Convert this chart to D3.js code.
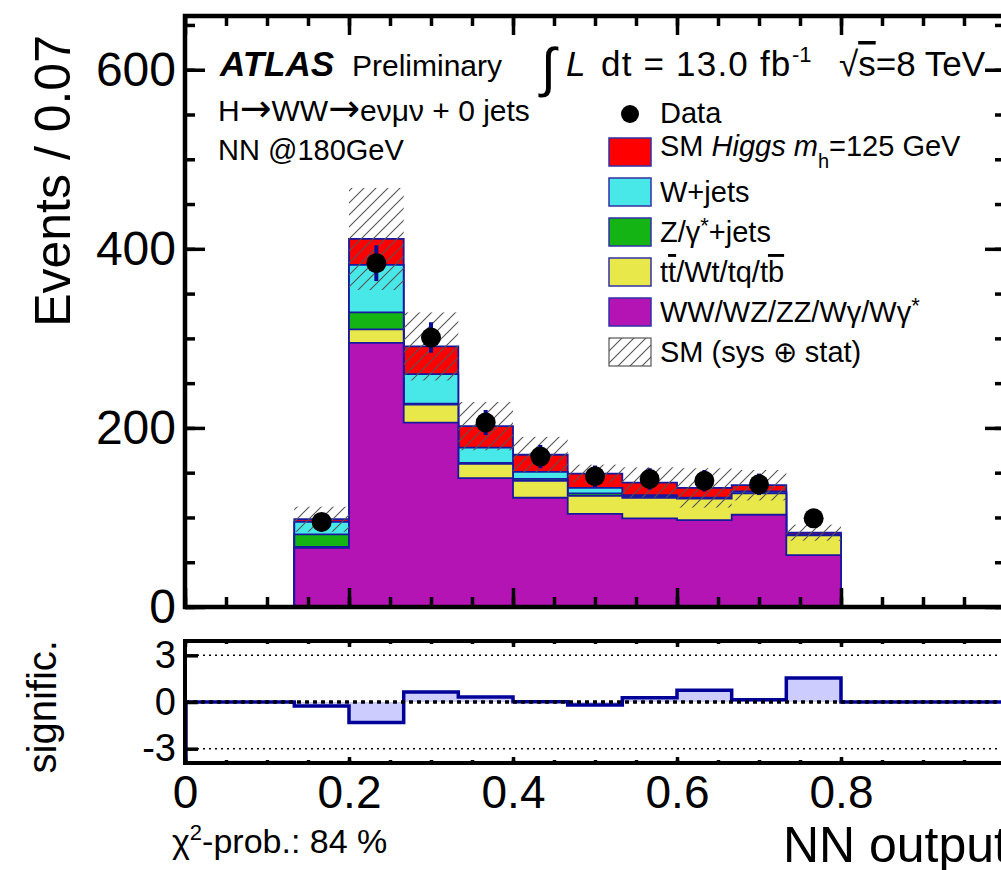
<html>
<head>
<script src="https://d3js.org/d3.v7.min.js" charset="utf-8"></script>
<style>
body { margin: 0; background: #fff; }
svg text { font-family: "Liberation Sans", Arial, Helvetica, sans-serif; }
</style>
</head>
<body>
<div id="canvas"></div>
<script>
// bin edges of the NN output histogram (15 bins)
var binEdges = [0, 0.0667, 0.1333, 0.2, 0.2667, 0.3333, 0.4, 0.4667, 0.5333, 0.6, 0.6667, 0.7333, 0.8, 0.8667, 0.9333, 1.0];

// background / signal contributions per bin (events)
var wwVals    = [0, 0, 66, 295, 206, 144, 122, 104, 99, 97, 103, 58, 0, 0, 0];
var topVals   = [0, 0, 1, 15, 20, 16, 19, 20, 23, 24, 24, 22, 0, 0, 0];
var zVals     = [0, 0, 14, 19, 1, 1, 2, 3, 1, 0, 0, 0, 0, 0, 0];
var wjetsVals = [0, 0, 14, 53, 33, 17, 8, 6, 2, 1, 2, 1, 0, 0, 0];
var higgsVals = [0, 0, 3, 29, 31, 24, 19, 16, 14, 11, 7, 2, 0, 0, 0];
var sysUnc    = [0, 0, 14, 57, 38, 27, 20, 10, 17, 22, 17, 9, 0, 0, 0];

// data
var dataVals  = [0, 0, 95, 384, 301, 206, 168, 146, 143, 141, 137, 99, 0, 0, 0];
var dataErr   = [0, 0, 10, 20, 17, 14, 13, 12, 12, 12, 12, 10, 0, 0, 0];

// significance in the ratio pad
var signif    = [0, 0, -0.25, -1.32, 0.64, 0.32, 0.02, -0.2, 0.28, 0.75, 0.15, 1.54, 0, 0, 0];

var xMajorTicks = [0, 0.2, 0.4, 0.6, 0.8, 1.0];
var yMajorTicks = [0, 200, 400, 600];
var sigTicks = [-3, 0, 3];

var legendItems = [
	{label: "higgs", color: "#ff0000"},
	{label: "W+jets", color: "#48e8e8"},
	{label: "Z/γ*+jets", color: "#14b414"},
	{label: "top", color: "#e8e84a"},
	{label: "WW/WZ/ZZ/Wγ/Wγ*", color: "#b414b4"}
];

var blue = "#1818a0";
var W = 1001, H = 870;
var svg = d3.select("#canvas").append("svg").attr("width", W).attr("height", H);

var x = d3.scaleLinear().domain([0, 1]).range([185, 1005]);
var y = d3.scaleLinear().domain([0, 660]).range([607, 16]);
var ys = d3.scaleLinear().domain([-3.92, 3.92]).range([763, 641]);

// hatch pattern for the uncertainty band
var defs = svg.append("defs");
var pat = defs.append("pattern").attr("id", "hatch").attr("patternUnits", "userSpaceOnUse")
	.attr("width", 12).attr("height", 12);
pat.append("path").attr("d", "M-1,1 l2,-2 M0,12 l12,-12 M11,13 l2,-2")
	.attr("stroke", "#555").attr("stroke-width", 1.1);

// cumulative stack
function cum(arrs) {
	return binEdges.slice(0, -1).map(function(e, i) {
		var s = 0;
		arrs.forEach(function(a) { s += a[i]; });
		return s;
	});
}
function stepPts(vals) {
	var pts = vals.map(function(v, i) { return {x: binEdges[i], v: v}; });
	pts.push({x: binEdges[binEdges.length - 1], v: vals[vals.length - 1]});
	return pts;
}
var area = d3.area().curve(d3.curveStepAfter)
	.x(function(d) { return x(d.x); }).y0(y(0)).y1(function(d) { return y(d.v); });

var layers = [
	{vals: cum([wwVals, topVals, zVals, wjetsVals, higgsVals]), color: "#ff0000"},
	{vals: cum([wwVals, topVals, zVals, wjetsVals]), color: "#48e8e8"},
	{vals: cum([wwVals, topVals, zVals]), color: "#14b414"},
	{vals: cum([wwVals, topVals]), color: "#e8e84a"},
	{vals: cum([wwVals]), color: "#b414b4"}
];
layers.forEach(function(l) {
	svg.append("path").attr("d", area(stepPts(l.vals)))
		.attr("fill", l.color).attr("stroke", blue).attr("stroke-width", 1.8);
});

// uncertainty band
var total = layers[0].vals;
var band = total.map(function(t, i) {
	return {x0: binEdges[i], x1: binEdges[i + 1], lo: t - sysUnc[i], hi: t + sysUnc[i], u: sysUnc[i]};
}).filter(function(d) { return d.u > 0; });
svg.append("g").selectAll("rect").data(band).enter().append("rect")
	.attr("x", function(d) { return x(d.x0); })
	.attr("width", function(d) { return x(d.x1) - x(d.x0); })
	.attr("y", function(d) { return y(d.hi); })
	.attr("height", function(d) { return y(d.lo) - y(d.hi); })
	.attr("fill", "url(#hatch)");

// data points
var dpts = dataVals.map(function(v, i) {
	return {x: (binEdges[i] + binEdges[i + 1]) / 2, v: v, e: dataErr[i]};
}).filter(function(d) { return d.v > 0; });
svg.append("g").selectAll("line").data(dpts).enter().append("line")
	.attr("x1", function(d) { return x(d.x); }).attr("x2", function(d) { return x(d.x); })
	.attr("y1", function(d) { return y(d.v - d.e); }).attr("y2", function(d) { return y(d.v + d.e); })
	.attr("stroke", "#0a0a96").attr("stroke-width", 4);
svg.append("g").selectAll("circle").data(dpts).enter().append("circle")
	.attr("cx", function(d) { return x(d.x); }).attr("cy", function(d) { return y(d.v); })
	.attr("r", 10).attr("fill", "black");

// main axes
var minorX = d3.range(0, 1.001, 0.05);
function styleAxis(g, fs) {
	g.select(".domain").remove();
	g.selectAll("line").attr("stroke", "black").attr("stroke-width", 3.5);
	g.selectAll("text").attr("font-size", fs).attr("font-family", null).attr("fill", "black");
}
svg.append("g").attr("transform", "translate(0,607)")
	.call(d3.axisBottom(x).tickValues(minorX).tickSize(-10).tickFormat("")).call(styleAxis, 0);
svg.append("g").attr("transform", "translate(0,607)")
	.call(d3.axisBottom(x).tickValues(xMajorTicks).tickSize(-19).tickFormat("")).call(styleAxis, 0);
svg.append("g").attr("transform", "translate(0,16)")
	.call(d3.axisTop(x).tickValues(minorX).tickSize(-10).tickFormat("")).call(styleAxis, 0);
svg.append("g").attr("transform", "translate(0,16)")
	.call(d3.axisTop(x).tickValues(xMajorTicks).tickSize(-19).tickFormat("")).call(styleAxis, 0);
var minorY = d3.range(0, 661, 50);
svg.append("g").attr("transform", "translate(185,0)")
	.call(d3.axisLeft(y).tickValues(minorY).tickSize(-10).tickFormat("")).call(styleAxis, 0);
svg.append("g").attr("transform", "translate(185,0)")
	.call(d3.axisLeft(y).tickValues(yMajorTicks).tickSize(-20).tickPadding(9).tickFormat(d3.format("d")))
	.call(styleAxis, 48);
svg.append("g").attr("transform", "translate(1005,0)")
	.call(d3.axisRight(y).tickValues(minorY).tickSize(-10).tickFormat("")).call(styleAxis, 0);
svg.append("g").attr("transform", "translate(1005,0)")
	.call(d3.axisRight(y).tickValues(yMajorTicks).tickSize(-20).tickFormat("")).call(styleAxis, 0);

svg.append("rect").attr("x", 185).attr("y", 16).attr("width", 820).attr("height", 591)
	.attr("fill", "none").attr("stroke", "black").attr("stroke-width", 4.5);

// texts in main pad
svg.append("text").attr("x", 220).attr("y", 76).attr("font-size", 35)
	.attr("font-weight", "bold").attr("font-style", "italic").text("ATLAS");
svg.append("text").attr("x", 352).attr("y", 76).attr("font-size", 30).text("Preliminary");
svg.append("text").attr("x", 541).attr("y", 86).attr("font-size", 54).text("∫");
svg.append("text").attr("x", 566).attr("y", 76).attr("font-size", 35).attr("font-style", "italic").text("L");
svg.append("text").attr("x", 601).attr("y", 76).attr("font-size", 35).attr("letter-spacing", 1.2)
	.text("dt = 13.0 fb");
svg.append("text").attr("x", 792).attr("y", 62).attr("font-size", 22).text("-1");
var sq = svg.append("text").attr("x", 985).attr("y", 76).attr("font-size", 35).attr("text-anchor", "end");
sq.append("tspan").text("√");
sq.append("tspan").style("text-decoration", "overline").text("s");
sq.append("tspan").text("=8 TeV");
var ch = svg.append("text").attr("x", 218).attr("y", 121).attr("font-size", 30);
ch.append("tspan").text("H");
ch.append("tspan").attr("font-family", "DejaVu Sans").attr("font-size", 38).text("→");
ch.append("tspan").text("WW");
ch.append("tspan").attr("font-family", "DejaVu Sans").attr("font-size", 38).text("→");
ch.append("tspan").text("eνμν + 0 jets");
svg.append("text").attr("x", 218).attr("y", 160).attr("font-size", 29).text("NN @180GeV");

// legend
var lg = svg.append("g");
lg.append("circle").attr("cx", 630).attr("cy", 114).attr("r", 9).attr("fill", "black");
lg.append("text").attr("x", 660).attr("y", 123).attr("font-size", 29).text("Data");
legendItems.forEach(function(it, i) {
	var cy = 152 + i * 40;
	lg.append("rect").attr("x", 609).attr("y", cy - 14).attr("width", 42).attr("height", 28)
		.attr("fill", it.color).attr("stroke", "#3030a8").attr("stroke-width", 1.5);
	var t = lg.append("text").attr("x", 660).attr("y", cy + 10).attr("font-size", 29);
	if (it.label === "higgs") {
		t.attr("y", cy + 4);
		t.append("tspan").text("SM ");
		t.append("tspan").attr("font-style", "italic").text("Higgs m");
		t.append("tspan").attr("font-size", 20).attr("dy", 12).text("h");
		t.append("tspan").attr("dy", -12).text("=125 GeV");
	} else if (it.label === "top") {
		t.append("tspan").text("t");
		t.append("tspan").style("text-decoration", "overline").text("t");
		t.append("tspan").text("/Wt/tq/t");
		t.append("tspan").style("text-decoration", "overline").text("b");
	} else if (it.label.indexOf("*") > 0) {
		var parts = it.label.split("*");
		t.append("tspan").text(parts[0]);
		t.append("tspan").attr("font-size", 22).attr("dy", -9).text("*");
		t.append("tspan").attr("dy", 9).text(parts[1]);
	} else {
		t.text(it.label);
	}
});
lg.append("rect").attr("x", 609).attr("y", 338).attr("width", 42).attr("height", 28)
	.attr("fill", "url(#hatch)").attr("stroke", "#555").attr("stroke-width", 1.2);
lg.append("text").attr("x", 660).attr("y", 362).attr("font-size", 29).text("SM (sys ⊕ stat)");

svg.append("text").attr("transform", "translate(70,35) rotate(-90)").attr("text-anchor", "end")
	.attr("font-size", 50).text("Events / 0.07");

// significance pad
var sarea = d3.area().curve(d3.curveStepAfter)
	.x(function(d) { return x(d.x); }).y0(ys(0)).y1(function(d) { return ys(d.v); });
var sline = d3.line().curve(d3.curveStepAfter)
	.x(function(d) { return x(d.x); }).y(function(d) { return ys(d.v); });
svg.append("path").attr("d", sarea(stepPts(signif))).attr("fill", "#ccccff");
svg.append("path").attr("d", sline(stepPts(signif))).attr("fill", "none")
	.attr("stroke", "#000099").attr("stroke-width", 3.5);
svg.append("line").attr("x1", x(0) + 1.5).attr("x2", x(0) + 1.5).attr("y1", ys(-3.92)).attr("y2", ys(0))
	.attr("stroke", "#000099").attr("stroke-width", 2.5);

[-3, 3].forEach(function(v) {
	svg.append("line").attr("x1", x(0)).attr("x2", x(1)).attr("y1", ys(v)).attr("y2", ys(v))
		.attr("stroke", "black").attr("stroke-width", 1.6).attr("stroke-dasharray", "2,4");
});
svg.append("line").attr("x1", x(0)).attr("x2", x(1)).attr("y1", ys(0)).attr("y2", ys(0))
	.attr("stroke", "black").attr("stroke-width", 3.5).attr("stroke-dasharray", "4,4");

svg.append("g").attr("transform", "translate(0,763)")
	.call(d3.axisBottom(x).tickValues(minorX).tickSize(-3).tickFormat("")).call(styleAxis, 0);
svg.append("g").attr("transform", "translate(0,763)")
	.call(d3.axisBottom(x).tickValues(xMajorTicks.slice(0, 5)).tickSize(-6).tickPadding(12)
		.tickFormat(function(d) { return String(d); }))
	.call(styleAxis, 46);
svg.append("g").attr("transform", "translate(0,641)")
	.call(d3.axisTop(x).tickValues(minorX).tickSize(-3).tickFormat("")).call(styleAxis, 0);
svg.append("g").attr("transform", "translate(0,641)")
	.call(d3.axisTop(x).tickValues(xMajorTicks).tickSize(-6).tickFormat("")).call(styleAxis, 0);
svg.append("g").attr("transform", "translate(185,0)")
	.call(d3.axisLeft(ys).tickValues(sigTicks).tickSize(-13).tickPadding(9)
		.tickFormat(function(d) { return String(d); }))
	.call(styleAxis, 38);

svg.append("rect").attr("x", 185).attr("y", 641).attr("width", 820).attr("height", 122)
	.attr("fill", "none").attr("stroke", "black").attr("stroke-width", 4);

svg.append("text").attr("transform", "translate(56,640) rotate(-90)").attr("text-anchor", "end")
	.attr("font-size", 40).text("signific.");

var chi = svg.append("text").attr("x", 172).attr("y", 853).attr("font-size", 34);
chi.append("tspan").text("χ");
chi.append("tspan").attr("font-size", 22).attr("dy", -13).text("2");
chi.append("tspan").attr("dy", 13).text("-prob.: 84 %");

svg.append("text").attr("x", 1008).attr("y", 862).attr("text-anchor", "end")
	.attr("font-size", 50).text("NN output");
</script>
</body>
</html>
